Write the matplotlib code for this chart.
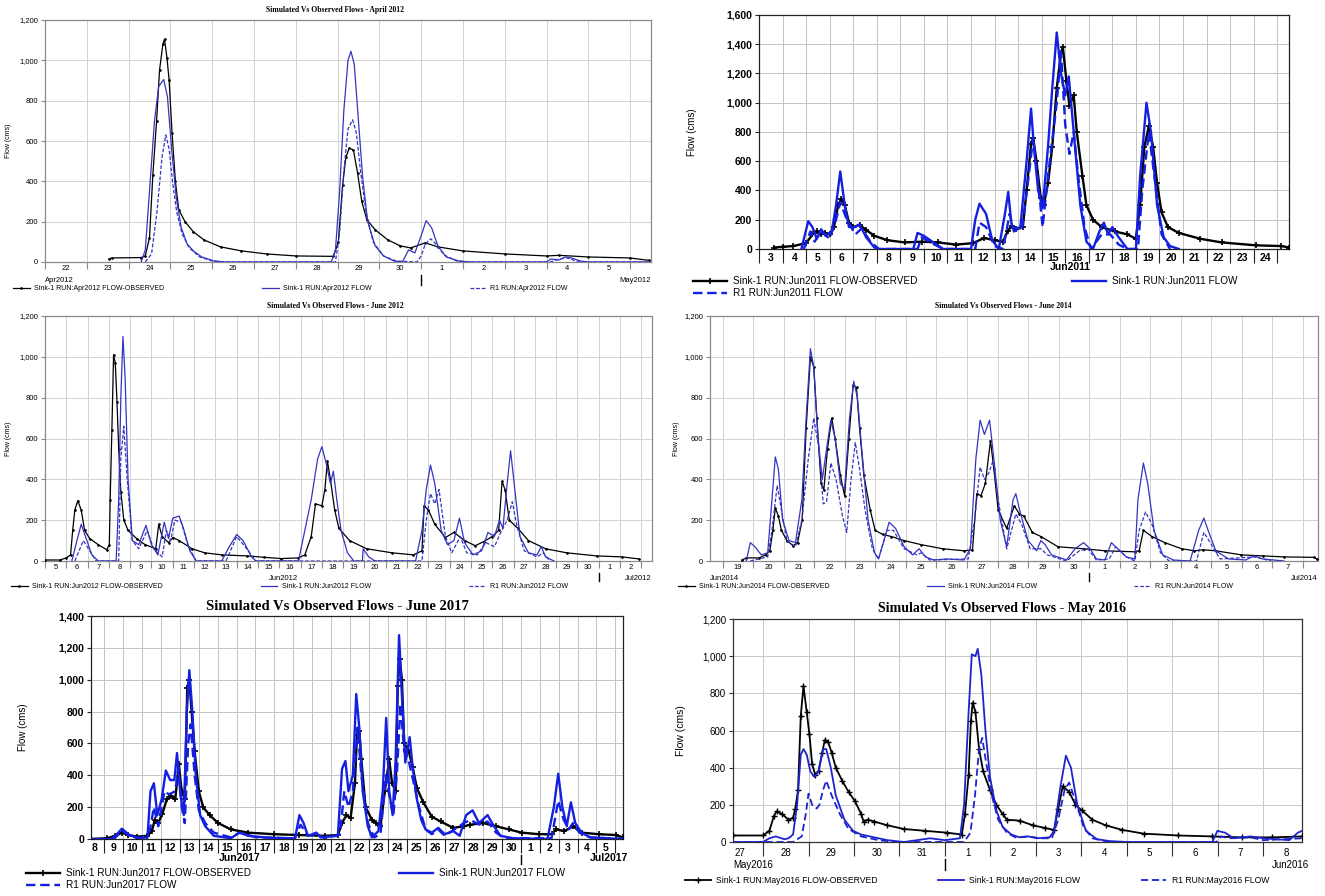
import numpy as np
import matplotlib
matplotlib.use("Agg")
import matplotlib.pyplot as plt
from matplotlib.ticker import FixedLocator, FixedFormatter, NullFormatter, FuncFormatter

W, H = 1325, 896

# ---- hydrograph readings: (days from first gridline, flow in cms) ----

# April 2012 (day 0 = Apr 22)
apr12_days = [22, 23, 24, 25, 26, 27, 28, 29, 30, 1, 2, 3, 4, 5]
apr12_obs = [(1.53, 15), (1.6, 20), (2.3, 22), (2.4, 30), (2.5, 120), (2.58, 430), (2.67, 700),
             (2.74, 950), (2.82, 1080), (2.86, 1105), (2.92, 1010), (2.97, 900), (3.04, 640),
             (3.12, 400), (3.2, 260), (3.35, 200), (3.55, 150), (3.8, 110), (4.2, 75), (4.7, 55),
             (5.3, 40), (6.0, 30), (6.9, 28), (7.02, 100), (7.12, 380), (7.2, 520), (7.28, 565),
             (7.38, 555), (7.48, 440), (7.58, 300), (7.7, 210), (7.9, 160), (8.2, 110), (8.5, 80),
             (8.75, 70), (9.1, 95), (9.4, 75), (10.0, 55), (11.0, 40), (12.0, 30), (12.3, 33),
             (13.0, 25), (14.0, 20), (14.45, 8)]
apr12_sim = [(2.3, 0), (2.4, 60), (2.5, 350), (2.62, 700), (2.72, 870), (2.84, 905), (2.93, 820),
             (3.03, 560), (3.14, 320), (3.26, 170), (3.4, 90), (3.55, 55), (3.75, 25), (4.05, 5),
             (4.3, 0), (6.85, 0), (6.95, 60), (7.05, 350), (7.15, 750), (7.25, 1000), (7.32, 1045),
             (7.4, 980), (7.5, 700), (7.6, 420), (7.72, 200), (7.9, 80), (8.1, 30), (8.35, 5),
             (8.55, 0), (8.7, 60), (8.85, 45), (9.0, 130), (9.12, 205), (9.25, 170), (9.4, 80),
             (9.6, 25), (9.9, 5), (10.2, 0), (12.0, 0), (12.1, 15), (12.3, 10), (12.45, 25),
             (12.6, 20), (12.8, 5), (13.0, 0), (14.5, 0)]
apr12_r1 = [(2.4, 0), (2.55, 40), (2.68, 250), (2.8, 520), (2.89, 630), (2.97, 560), (3.05, 400),
            (3.15, 250), (3.28, 140), (3.45, 70), (3.7, 25), (4.0, 5), (4.3, 0), (6.95, 0),
            (7.05, 150), (7.15, 450), (7.25, 660), (7.36, 705), (7.45, 640), (7.55, 450),
            (7.68, 250), (7.85, 100), (8.1, 30), (8.4, 5), (8.9, 0), (9.0, 30), (9.1, 90),
            (9.23, 115), (9.35, 90), (9.55, 35), (9.85, 5), (10.2, 0), (12.1, 0), (12.3, 15),
            (12.5, 20), (12.7, 5), (13.0, 0), (14.5, 0)]

# June 2011 (day 0 = Jun 3)
jun11_days = [3, 4, 5, 6, 7, 8, 9, 10, 11, 12, 13, 14, 15, 16, 17, 18, 19, 20, 21, 22, 23, 24]
jun11_obs = [(0.64, 10), (1.0, 15), (1.45, 20), (2.0, 40), (2.27, 100), (2.45, 120), (2.64, 100),
             (2.8, 110), (3.0, 100), (3.18, 150), (3.36, 300), (3.49, 340), (3.64, 300),
             (3.82, 180), (4.0, 150), (4.27, 165), (4.55, 130), (4.9, 90), (5.45, 60), (6.18, 45),
             (6.9, 50), (7.6, 45), (8.36, 30), (9.09, 40), (9.55, 75), (10.0, 60), (10.36, 50),
             (10.55, 120), (10.73, 160), (10.9, 140), (11.2, 150), (11.36, 400), (11.55, 720),
             (11.64, 760), (11.78, 600), (11.96, 350), (12.09, 300), (12.27, 450), (12.45, 700),
             (12.64, 1100), (12.82, 1340), (12.9, 1380), (13.05, 1150), (13.18, 980),
             (13.36, 1050), (13.49, 800), (13.73, 500), (13.9, 300), (14.18, 200), (14.55, 150),
             (15.1, 120), (15.64, 100), (16.0, 70), (16.18, 300), (16.36, 700), (16.55, 840),
             (16.73, 700), (16.9, 450), (17.09, 250), (17.36, 150), (17.82, 110), (18.73, 70),
             (19.64, 45), (21.1, 25), (22.18, 20), (22.5, 10)]
jun11_sim = [(1.8, 0), (2.09, 190), (2.27, 150), (2.45, 70), (2.64, 135), (2.82, 90), (3.09, 120),
             (3.27, 300), (3.45, 530), (3.64, 300), (3.82, 150), (4.09, 150), (4.27, 170),
             (4.55, 80), (4.9, 10), (5.09, 0), (6.55, 0), (6.73, 110), (7.0, 90), (7.45, 40),
             (7.82, 0), (9.0, 0), (9.18, 200), (9.36, 310), (9.64, 240), (9.9, 60), (10.18, 0),
             (10.45, 250), (10.58, 390), (10.73, 150), (11.09, 140), (11.36, 600), (11.55, 960),
             (11.67, 700), (11.85, 400), (12.04, 280), (12.27, 700), (12.45, 1100), (12.64, 1480),
             (12.82, 1200), (13.0, 1050), (13.15, 1180), (13.36, 800), (13.64, 300), (13.9, 50),
             (14.18, 0), (14.45, 120), (14.64, 180), (14.82, 100), (15.0, 150), (15.27, 80),
             (15.64, 0), (16.0, 0), (16.18, 500), (16.45, 1000), (16.64, 800), (16.9, 300),
             (17.18, 80), (17.45, 20), (17.82, 0)]
jun11_r1 = [(1.9, 0), (2.18, 120), (2.36, 50), (2.64, 120), (3.0, 70), (3.27, 200), (3.45, 320),
            (3.73, 200), (4.09, 100), (4.36, 140), (4.73, 50), (5.09, 0), (6.73, 0), (6.91, 80),
            (7.45, 30), (7.82, 0), (9.18, 0), (9.36, 180), (9.64, 150), (10.0, 20), (10.36, 0),
            (10.64, 240), (10.82, 120), (11.18, 150), (11.45, 500), (11.64, 760), (11.82, 500),
            (12.04, 150), (12.27, 500), (12.64, 1000), (12.82, 1350), (13.0, 850), (13.18, 650),
            (13.36, 800), (13.55, 500), (13.82, 150), (14.09, 0), (14.55, 100), (14.91, 100),
            (15.27, 30), (15.64, 0), (16.09, 0), (16.27, 400), (16.55, 800), (16.82, 450),
            (17.09, 100), (17.45, 0)]

# June 2012 (day 0 = Jun 5)
jun12_days = [5, 6, 7, 8, 9, 10, 11, 12, 13, 14, 15, 16, 17, 18, 19, 20, 21, 22, 23, 24, 25, 26,
              27, 28, 29, 30, 1, 2]
jun12_obs = [(0.0, 5), (0.7, 5), (1.0, 15), (1.2, 30), (1.3, 150), (1.4, 250), (1.54, 295),
             (1.7, 250), (1.86, 150), (2.1, 110), (2.5, 80), (2.9, 55), (3.02, 80), (3.06, 300),
             (3.14, 640), (3.22, 1010), (3.3, 970), (3.38, 780), (3.46, 550), (3.56, 340),
             (3.7, 200), (3.9, 150), (4.3, 110), (4.7, 80), (5.2, 60), (5.34, 180), (5.5, 120),
             (5.8, 90), (6.0, 115), (6.3, 100), (6.9, 60), (7.5, 40), (8.3, 30), (9.5, 25),
             (10.3, 18), (11.1, 12), (11.9, 15), (12.2, 30), (12.5, 120), (12.7, 280), (13.0, 270),
             (13.14, 350), (13.26, 490), (13.4, 400), (13.6, 250), (13.8, 160), (14.3, 100),
             (15.1, 60), (16.3, 40), (17.3, 30), (17.7, 50), (17.8, 270), (18.0, 250), (18.3, 180),
             (18.8, 115), (19.2, 140), (19.7, 100), (20.2, 75), (20.6, 95), (21.0, 120),
             (21.3, 150), (21.46, 390), (21.6, 350), (21.8, 200), (22.2, 160), (22.7, 100),
             (23.5, 60), (24.5, 40), (25.9, 25), (27.1, 20), (27.9, 10)]
jun12_sim = [(1.26, 0), (1.5, 100), (1.7, 180), (1.9, 120), (2.2, 30), (2.5, 0), (3.34, 0),
             (3.46, 300), (3.56, 800), (3.66, 1100), (3.76, 900), (3.9, 400), (4.1, 100),
             (4.4, 80), (4.74, 175), (5.0, 80), (5.3, 30), (5.6, 190), (5.8, 110), (6.0, 210),
             (6.3, 220), (6.5, 160), (6.8, 50), (7.1, 0), (8.3, 0), (8.6, 60), (9.0, 130),
             (9.3, 100), (9.7, 20), (9.9, 0), (11.9, 0), (12.2, 150), (12.5, 300), (12.8, 500),
             (13.0, 560), (13.2, 480), (13.4, 380), (13.54, 440), (13.7, 300), (13.9, 150),
             (14.2, 40), (14.5, 0), (14.9, 0), (14.94, 60), (15.2, 20), (15.5, 0), (17.4, 0),
             (17.7, 150), (17.9, 350), (18.1, 470), (18.3, 380), (18.6, 150), (18.9, 80),
             (19.2, 100), (19.46, 210), (19.7, 90), (20.1, 30), (20.5, 50), (20.8, 140),
             (21.1, 120), (21.34, 200), (21.5, 160), (21.7, 380), (21.86, 540), (22.06, 350),
             (22.3, 120), (22.7, 40), (23.1, 30), (23.3, 70), (23.5, 20), (23.9, 0)]
jun12_r1 = [(1.4, 0), (1.8, 100), (2.1, 50), (2.4, 0), (3.46, 0), (3.56, 500), (3.7, 660),
            (3.86, 400), (4.1, 100), (4.4, 60), (4.8, 150), (5.1, 60), (5.5, 20), (5.7, 150),
            (5.9, 100), (6.1, 200), (6.4, 190), (6.7, 80), (7.1, 0), (8.5, 0), (9.0, 120),
            (9.4, 70), (9.9, 0), (17.7, 0), (17.9, 200), (18.1, 330), (18.3, 280), (18.5, 350),
            (18.8, 120), (19.1, 40), (19.5, 120), (19.8, 40), (20.3, 30), (20.7, 90), (21.1, 70),
            (21.4, 140), (21.7, 200), (21.94, 290), (22.14, 180), (22.5, 50), (23.1, 20),
            (23.4, 40), (23.7, 0)]

# June 2014 (day 0 = Jun 19)
jun14_days = [19, 20, 21, 22, 23, 24, 25, 26, 27, 28, 29, 30, 1, 2, 3, 4, 5, 6, 7]
jun14_obs = [(0.63, 5), (0.77, 15), (1.19, 15), (1.4, 30), (1.54, 50), (1.64, 150), (1.72, 260),
             (1.82, 220), (1.92, 150), (2.1, 100), (2.3, 75), (2.45, 90), (2.6, 200), (2.73, 650),
             (2.87, 1000), (2.98, 950), (3.08, 700), (3.22, 380), (3.31, 350), (3.43, 550),
             (3.57, 700), (3.68, 600), (3.85, 420), (3.99, 320), (4.13, 600), (4.27, 860),
             (4.38, 850), (4.48, 650), (4.62, 420), (4.83, 250), (4.99, 150), (5.24, 130),
             (5.52, 120), (5.94, 100), (6.5, 80), (7.2, 60), (7.9, 50), (8.18, 55), (8.32, 330),
             (8.46, 320), (8.6, 380), (8.77, 590), (8.88, 450), (9.02, 250), (9.3, 160),
             (9.55, 270), (9.72, 230), (9.86, 220), (10.14, 140), (10.42, 120), (10.98, 70),
             (11.82, 60), (12.52, 50), (13.5, 45), (13.64, 50), (13.78, 150), (14.06, 120),
             (14.48, 90), (15.03, 60), (15.45, 50), (15.73, 55), (16.15, 50), (16.99, 30),
             (17.69, 25), (18.39, 20), (19.37, 18), (19.48, 8)]
jun14_sim = [(0.77, 0), (0.9, 90), (1.05, 70), (1.26, 30), (1.47, 40), (1.61, 300), (1.72, 510),
             (1.82, 450), (1.96, 200), (2.17, 100), (2.38, 90), (2.59, 300), (2.73, 700),
             (2.87, 1040), (2.98, 950), (3.12, 600), (3.26, 400), (3.4, 550), (3.54, 690),
             (3.68, 600), (3.85, 380), (3.99, 350), (4.15, 700), (4.29, 880), (4.41, 800),
             (4.55, 550), (4.76, 200), (4.97, 40), (5.1, 10), (5.24, 80), (5.45, 190), (5.66, 160),
             (5.94, 70), (6.22, 30), (6.43, 60), (6.64, 20), (6.92, 5), (7.34, 10), (7.9, 5),
             (8.11, 60), (8.29, 500), (8.43, 690), (8.57, 620), (8.74, 690), (8.88, 500),
             (9.09, 200), (9.3, 70), (9.51, 300), (9.6, 330), (9.74, 240), (10.0, 100),
             (10.28, 50), (10.42, 100), (10.56, 80), (10.77, 30), (11.26, 5), (11.54, 60),
             (11.82, 90), (12.03, 60), (12.24, 10), (12.52, 5), (12.73, 90), (12.94, 60),
             (13.22, 20), (13.5, 10), (13.6, 300), (13.78, 480), (13.92, 380), (14.13, 150),
             (14.41, 30), (14.76, 5), (15.31, 0), (15.59, 150), (15.76, 210), (15.9, 150),
             (16.15, 50), (16.57, 10), (17.13, 5), (17.41, 25), (17.69, 10), (18.39, 0)]
jun14_r1 = [(0.9, 0), (1.47, 20), (1.61, 150), (1.78, 370), (1.92, 250), (2.1, 100), (2.38, 70),
            (2.59, 200), (2.8, 500), (2.98, 700), (3.15, 550), (3.29, 280), (3.4, 290),
            (3.54, 480), (3.71, 400), (3.92, 220), (4.06, 140), (4.2, 400), (4.34, 580),
            (4.48, 450), (4.66, 250), (4.9, 60), (5.1, 10), (5.38, 150), (5.59, 150), (5.94, 60),
            (6.36, 30), (6.5, 40), (6.78, 5), (8.04, 10), (8.25, 200), (8.43, 460), (8.57, 400),
            (8.71, 430), (8.85, 490), (9.02, 300), (9.3, 60), (9.6, 230), (9.79, 180),
            (10.07, 60), (10.42, 60), (10.63, 30), (11.26, 0), (11.68, 50), (11.96, 60),
            (12.24, 5), (12.66, 10), (12.87, 70), (13.22, 20), (13.5, 0), (13.64, 150),
            (13.85, 240), (14.06, 180), (14.34, 40), (14.62, 0), (15.52, 0), (15.76, 140),
            (16.01, 80), (16.29, 10), (17.41, 20), (17.97, 0)]

# June 2017 (day 0 = Jun 9)
jun17_days = [8, 9, 10, 11, 12, 13, 14, 15, 16, 17, 18, 19, 20, 21, 22, 23, 24, 25, 26, 27, 28,
              29, 30, 1, 2, 3, 4, 5]
jun17_obs = [(-0.68, 0), (0.16, 5), (0.61, 20), (0.95, 40), (1.29, 25), (1.74, 15), (2.3, 20),
             (2.53, 50), (2.69, 120), (2.87, 100), (3.09, 160), (3.32, 250), (3.54, 270),
             (3.77, 250), (3.95, 470), (4.11, 300), (4.27, 250), (4.4, 950), (4.51, 1000),
             (4.63, 800), (4.79, 550), (5.01, 300), (5.24, 200), (5.58, 150), (6.03, 100),
             (6.7, 60), (7.61, 40), (8.96, 30), (10.32, 25), (11.67, 20), (12.35, 25),
             (12.57, 100), (12.8, 150), (13.02, 130), (13.25, 350), (13.36, 650), (13.48, 680),
             (13.59, 500), (13.81, 200), (14.15, 120), (14.38, 100), (14.6, 80), (14.83, 300),
             (15.06, 500), (15.21, 350), (15.4, 300), (15.51, 960), (15.62, 1130), (15.73, 1000),
             (15.85, 600), (16.07, 560), (16.3, 450), (16.52, 320), (16.86, 230), (17.31, 140),
             (17.77, 110), (18.44, 70), (19.0, 80), (19.35, 90), (20.02, 100), (20.7, 80),
             (21.38, 60), (22.05, 40), (22.96, 30), (23.63, 30), (23.86, 60), (24.31, 50),
             (24.76, 80), (25.21, 40), (26.12, 30), (27.02, 25), (27.4, 10)]
jun17_sim = [(-0.68, 0), (0.4, 0), (0.61, 20), (0.95, 65), (1.29, 30), (1.74, 5), (2.3, 10),
             (2.46, 300), (2.64, 350), (2.82, 150), (3.05, 250), (3.27, 430), (3.5, 370),
             (3.72, 370), (3.86, 540), (4.04, 280), (4.22, 150), (4.38, 800), (4.51, 1060),
             (4.67, 800), (4.85, 400), (5.08, 150), (5.35, 80), (5.8, 20), (6.7, 5), (7.16, 40),
             (7.61, 20), (8.51, 10), (9.41, 5), (10.09, 5), (10.32, 150), (10.54, 100),
             (10.77, 20), (11.22, 40), (11.44, 10), (12.35, 20), (12.57, 440), (12.75, 490),
             (12.91, 300), (13.14, 400), (13.32, 910), (13.48, 700), (13.66, 300), (13.93, 80),
             (14.15, 10), (14.49, 50), (14.72, 300), (14.9, 760), (15.06, 300), (15.24, 150),
             (15.4, 500), (15.58, 1280), (15.73, 900), (15.91, 480), (16.14, 640), (16.3, 450),
             (16.52, 250), (16.75, 120), (16.98, 60), (17.31, 40), (17.65, 70), (17.99, 30),
             (18.44, 50), (18.78, 20), (19.12, 150), (19.46, 180), (19.8, 100), (20.25, 150),
             (20.59, 80), (20.93, 20), (21.6, 5), (23.41, 0), (23.75, 200), (23.98, 410),
             (24.2, 200), (24.43, 80), (24.65, 230), (24.88, 100), (25.21, 40), (25.67, 10),
             (26.57, 5), (27.4, 0)]
jun17_r1 = [(0.4, 0), (0.61, 10), (0.95, 50), (1.4, 20), (1.96, 5), (2.42, 50), (2.64, 200),
            (2.87, 80), (3.2, 300), (3.43, 280), (3.77, 300), (3.93, 450), (4.11, 200),
            (4.27, 100), (4.45, 600), (4.58, 720), (4.79, 400), (5.01, 180), (5.35, 100),
            (5.8, 40), (6.7, 10), (7.16, 40), (8.06, 10), (10.09, 5), (10.38, 90), (10.77, 20),
            (11.22, 30), (11.67, 5), (12.46, 30), (12.69, 300), (12.91, 200), (13.14, 300),
            (13.39, 700), (13.59, 400), (13.93, 100), (14.27, 10), (14.6, 30), (14.88, 400),
            (15.1, 250), (15.28, 150), (15.46, 400), (15.66, 850), (15.85, 550), (16.07, 500),
            (16.3, 380), (16.64, 200), (16.98, 60), (17.31, 30), (17.65, 60), (17.99, 20),
            (19.0, 100), (19.35, 120), (19.8, 90), (20.25, 110), (20.7, 40), (21.15, 5),
            (23.63, 5), (23.98, 240), (24.27, 120), (24.54, 60), (24.76, 100), (25.1, 40),
            (25.67, 10), (27.4, 0)]

# May 2016 (day 0 = May 28)
may16_days = [27, 28, 29, 30, 31, 1, 2, 3, 4, 5, 6, 7, 8]
may16_obs = [(-0.66, 35), (0.0, 35), (0.14, 60), (0.24, 140), (0.3, 165), (0.42, 150), (0.56, 120),
             (0.66, 130), (0.71, 180), (0.77, 280), (0.83, 680), (0.89, 840), (0.96, 700),
             (1.02, 580), (1.08, 420), (1.15, 360), (1.22, 380), (1.3, 480), (1.36, 550),
             (1.43, 540), (1.51, 480), (1.6, 400), (1.74, 330), (1.88, 270), (2.02, 220),
             (2.16, 150), (2.21, 110), (2.3, 120), (2.45, 110), (2.73, 90), (3.1, 70), (3.57, 60),
             (4.05, 50), (4.37, 40), (4.44, 150), (4.52, 360), (4.57, 650), (4.61, 750),
             (4.67, 700), (4.75, 500), (4.84, 380), (4.99, 280), (5.13, 200), (5.27, 150),
             (5.36, 120), (5.64, 115), (5.93, 90), (6.21, 75), (6.4, 65), (6.49, 180), (6.59, 300),
             (6.73, 270), (6.87, 200), (7.01, 170), (7.24, 120), (7.53, 90), (7.9, 65), (8.37, 45),
             (9.13, 35), (9.88, 30), (10.54, 25), (11.2, 25), (11.85, 30)]
may16_sim = [(-0.66, 0), (0.0, 0), (0.14, 20), (0.28, 30), (0.47, 15), (0.56, 20), (0.66, 40),
             (0.75, 200), (0.83, 470), (0.89, 500), (0.96, 470), (1.04, 380), (1.13, 350),
             (1.22, 380), (1.32, 500), (1.39, 500), (1.49, 400), (1.6, 250), (1.79, 120),
             (1.98, 60), (2.16, 40), (2.35, 30), (2.73, 10), (3.1, 0), (3.39, 10), (3.67, 20),
             (4.0, 10), (4.33, 20), (4.42, 200), (4.52, 700), (4.59, 1010), (4.67, 1000),
             (4.72, 1040), (4.8, 900), (4.89, 600), (4.99, 350), (5.13, 170), (5.27, 80),
             (5.46, 40), (5.64, 25), (5.83, 30), (6.02, 20), (6.3, 25), (6.4, 60), (6.54, 300),
             (6.66, 465), (6.77, 400), (6.91, 200), (7.1, 60), (7.34, 15), (7.62, 5), (8.0, 0),
             (9.88, 0), (9.99, 60), (10.16, 50), (10.35, 20), (10.72, 30), (11.0, 20),
             (11.57, 10), (11.76, 50), (11.85, 60)]
may16_r1 = [(-0.66, 0), (0.66, 0), (0.85, 30), (0.94, 150), (1.0, 260), (1.08, 200), (1.18, 180),
            (1.24, 200), (1.32, 280), (1.39, 330), (1.51, 250), (1.69, 150), (1.88, 70),
            (2.16, 30), (2.54, 10), (2.92, 0), (4.42, 0), (4.56, 50), (4.66, 250), (4.75, 500),
            (4.82, 560), (4.89, 450), (5.03, 250), (5.17, 120), (5.36, 50), (5.55, 25),
            (5.83, 30), (6.11, 20), (6.35, 20), (6.49, 120), (6.63, 280), (6.73, 320),
            (6.87, 220), (7.05, 80), (7.24, 20), (7.62, 0), (9.97, 0), (10.07, 30), (10.25, 20),
            (10.72, 25), (11.0, 10), (11.85, 20)]

LOOKS = {
    'small': dict(tick_fs=5.5, tick_w='normal', ylab_fs=5, leg_fs=5, leg_w='normal', lw=0.9,
                  marker='.', ms=2.5, mew=0.6, blue='#3434c2', dash=(0, (3, 1.5)), ncol=3,
                  handlelen=2.4, spine='#8a8a8a', grid='#d2d2d2', major_len=5, xpad=2,
                  month_fs=5.5),
    'bold': dict(tick_fs=7.5, tick_w='bold', ylab_fs=7, leg_fs=7.2, leg_w='normal', lw=1.7,
                 marker='+', ms=4.5, mew=1.2, blue='#1420e0', dash=(0, (4, 2)), ncol=2,
                 handlelen=3.4, spine='#222222', grid='#c4c4c4', major_len=10, xpad=3,
                 month_fs=7.5),
    'plain': dict(tick_fs=7, tick_w='normal', ylab_fs=7.5, leg_fs=6.2, leg_w='normal', lw=1.3,
                  marker='+', ms=4, mew=1.0, blue='#1e24cc', dash=(0, (4, 2)), ncol=3,
                  handlelen=3.0, spine='#333333', grid='#c8c8c8', major_len=10, xpad=4,
                  month_fs=7),
}


def draw_panel(fig, box, obs, sim, r1, days, first, xlim, ymax, run, look, title=None,
               title_x=None, title_fs=6, title_pad=6, months=(), sep=None, ylab_px=0, leg=None):
    st = LOOKS[look]
    x0, y0, x1, y1 = box
    ax = fig.add_axes([x0 / W, 1 - y1 / H, (x1 - x0) / W, (y1 - y0) / H])

    t, q = zip(*obs)
    ax.plot(t, q, color='black', lw=st['lw'], marker=st['marker'], ms=st['ms'], mew=st['mew'],
            label=f'Sink-1 RUN:{run} FLOW-OBSERVED', zorder=3)
    t, q = zip(*sim)
    ax.plot(t, q, color=st['blue'], lw=st['lw'], label=f'Sink-1 RUN:{run} FLOW', zorder=4)
    t, q = zip(*r1)
    ax.plot(t, q, color=st['blue'], lw=st['lw'], ls=st['dash'], label=f'R1 RUN:{run} FLOW',
            zorder=4)

    ax.set_xlim(*xlim)
    ax.set_ylim(0, ymax)

    # day boundaries carry the grid, labels sit in the middle of each day
    bounds = np.arange(np.ceil(xlim[0]), np.floor(xlim[1]) + 1)
    ax.xaxis.set_major_locator(FixedLocator(bounds))
    ax.xaxis.set_major_formatter(NullFormatter())
    centers = first + 0.5 + np.arange(len(days))
    ax.xaxis.set_minor_locator(FixedLocator(centers))
    ax.xaxis.set_minor_formatter(FixedFormatter([str(d) for d in days]))
    ax.tick_params(axis='x', which='major', length=st['major_len'], width=0.8, color=st['spine'])
    ax.tick_params(axis='x', which='minor', length=0, pad=st['xpad'], labelsize=st['tick_fs'])
    plt.setp(ax.get_xticklabels(minor=True), fontweight=st['tick_w'])

    ax.set_yticks(np.arange(0, ymax + 1, 200))
    ax.yaxis.set_major_formatter(FuncFormatter(lambda v, p: f'{v:,.0f}'))
    ax.tick_params(axis='y', length=3, width=0.8, color=st['spine'], labelsize=st['tick_fs'],
                   pad=2)
    plt.setp(ax.get_yticklabels(), fontweight=st['tick_w'])
    ax.grid(True, which='major', color=st['grid'], lw=0.7)
    ax.set_axisbelow(True)
    for s in ax.spines.values():
        s.set_color(st['spine'])
        s.set_linewidth(0.9)

    ax.set_ylabel('Flow (cms)', fontsize=st['ylab_fs'])
    ax.yaxis.set_label_coords((ylab_px - x0) / (x1 - x0), 0.5)

    if title:
        tx = 0.5 if title_x is None else (title_x - x0) / (x1 - x0)
        ax.set_title(title, x=tx, pad=title_pad, fontsize=title_fs, fontweight='bold',
                     family='Liberation Serif')

    for text, xm, ha, dy in months:
        ax.annotate(text, xy=(xm, 0), xycoords=('data', 'axes fraction'),
                    xytext=(0, -dy * 0.72), textcoords='offset points', ha=ha, va='center',
                    fontsize=st['month_fs'], fontweight=st['tick_w'])

    if sep is not None:
        xs, a, b = sep
        hpx = y1 - y0
        ax.plot([xs, xs], [-a / hpx, -b / hpx], transform=ax.get_xaxis_transform(),
                color='black', lw=1, clip_on=False)

    if leg is not None:
        lx0, lx1, ly = leg
        hs, ls = ax.get_legend_handles_labels()
        order = [0, 1, 2] if st['ncol'] == 3 else [0, 2, 1]
        ax.legend([hs[i] for i in order], [ls[i] for i in order], loc='upper left',
                  bbox_to_anchor=(lx0 / W, 1 - ly / H, (lx1 - lx0) / W, 0.001),
                  bbox_transform=fig.transFigure, mode='expand', ncol=st['ncol'],
                  frameon=False, borderaxespad=0, borderpad=0, handlelength=st['handlelen'],
                  handletextpad=0.6, labelspacing=0.2,
                  prop=dict(size=st['leg_fs'], weight=st['leg_w']))
    return ax


plt.rcParams['font.family'] = ['Liberation Sans', 'DejaVu Sans']
fig = plt.figure(figsize=(W / 100, H / 100), dpi=100)

draw_panel(fig, (45, 20, 651, 262), apr12_obs, apr12_sim, apr12_r1, apr12_days, 0, (0, 14.5),
           1200, 'Apr2012', 'small', title='Simulated Vs Observed Flows - April 2012',
           title_x=335, title_fs=5.5, title_pad=6,
           months=[('Apr2012', 0, 'left', 18), ('May2012', 14.5, 'right', 18)],
           sep=(9, 13, 23), ylab_px=12, leg=(13, 568, 286))

draw_panel(fig, (759, 15, 1289, 249), jun11_obs, jun11_sim, jun11_r1, jun11_days, 0, (0, 22.5),
           1600, 'Jun2011', 'bold', months=[('Jun2011', 13.2, 'center', 18)],
           ylab_px=697, leg=(693, 1237, 277))

draw_panel(fig, (45, 316, 652, 561), jun12_obs, jun12_sim, jun12_r1, jun12_days, 0, (0, 28.5),
           1200, 'Jun2012', 'small', title='Simulated Vs Observed Flows - June 2012',
           title_x=335, title_fs=5.5, title_pad=6,
           months=[('Jun2012', 11.2, 'center', 17), ('Jul2012', 28.5, 'right', 17)],
           sep=(26, 12, 20), ylab_px=12, leg=(11, 568, 584))

draw_panel(fig, (710, 316, 1318, 561), jun14_obs, jun14_sim, jun14_r1, jun14_days, 0,
           (-0.42, 19.5), 1200, 'Jun2014', 'small',
           title='Simulated Vs Observed Flows - June 2014', title_x=1003, title_fs=5.5,
           title_pad=6, months=[('Jun2014', -0.42, 'left', 17), ('Jul2014', 19.5, 'right', 17)],
           sep=(12, 12, 20), ylab_px=680, leg=(678, 1233, 584))

draw_panel(fig, (91, 616, 623, 839), jun17_obs, jun17_sim, jun17_r1, jun17_days, -1,
           (-0.68, 27.4), 1400, 'Jun2017', 'bold',
           title='Simulated Vs Observed Flows - June 2017', title_x=337, title_fs=10.5,
           title_pad=4, months=[('Jun2017', 7.18, 'center', 19), ('Jul2017', 26.68, 'center', 19)],
           sep=(22, 16, 25), ylab_px=28, leg=(26, 565, 869))

draw_panel(fig, (733, 619, 1302, 842), may16_obs, may16_sim, may16_r1, may16_days, -1,
           (-0.66, 11.85), 1200, 'May2016', 'plain',
           title='Simulated Vs Observed Flows - May 2016', title_x=1002, title_fs=10,
           title_pad=5, months=[('May2016', -0.66, 'left', 23), ('Jun2016', 11.59, 'center', 23)],
           sep=(4, 17, 28), ylab_px=686, leg=(685, 1269, 877))

fig.savefig('out.png', dpi=100)
